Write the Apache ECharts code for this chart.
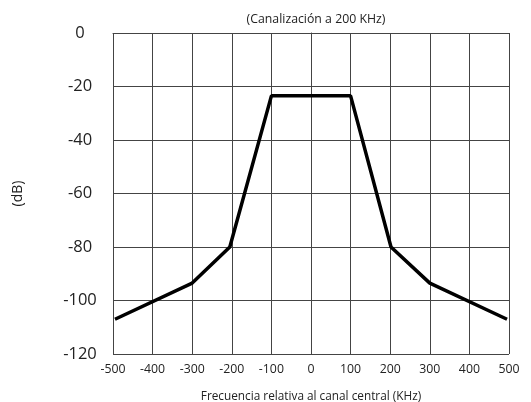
<!DOCTYPE html>
<html><head><meta charset="utf-8">
<script src="https://cdn.jsdelivr.net/npm/echarts@6/dist/echarts.min.js"></script>
<style>html,body{margin:0;padding:0;background:#fff}#c{width:531px;height:402px}</style>
</head><body><div id="c"></div>
<script>
const freqs = [-495, -300, -205, -100, 100, 202, 300, 495];
const levels = [-107, -93.5, -80, -23.5, -23.5, -80, -93.5, -107];
const xTicks = [-500, -400, -300, -200, -100, 0, 100, 200, 300, 400, 500];
const yTicks = [-120, -100, -80, -60, -40, -20, 0];
const titleText = '(Canalización a 200 KHz)';
const xName = 'Frecuencia relativa al canal central (KHz)';
const yName = '(dB)';

const chart = echarts.init(document.getElementById('c'));
const FONT = 'Open Sans';
chart.setOption({
  animation: false,
  title: {text: titleText, left: 311, top: 8, textAlign: 'center',
    textStyle: {fontFamily: FONT, fontSize: 12.3, fontWeight: 'normal', color: '#222'}},
  grid: {left: 113, right: 22, top: 33, bottom: 48, containLabel: false, outerBoundsMode: 'none'},
  xAxis: {type: 'value', min: xTicks[0], max: xTicks[xTicks.length-1], interval: 100,
    name: xName, nameLocation: 'middle', nameGap: 37,
    nameTextStyle: {fontFamily: FONT, fontSize: 11.8, color: '#222'},
    axisLine: {show: true, lineStyle: {color: '#444', width: 1}},
    axisTick: {show: false},
    axisLabel: {fontFamily: FONT, fontSize: 12.3, color: '#222', margin: 9},
    splitLine: {show: true, lineStyle: {color: '#444', width: 1}}},
  yAxis: {type: 'value', min: yTicks[0], max: yTicks[yTicks.length-1], interval: 20,
    name: yName, nameLocation: 'middle', nameGap: 88, nameRotate: 90,
    nameTextStyle: {fontFamily: FONT, fontSize: 14, color: '#222'},
    axisLine: {show: true, lineStyle: {color: '#444', width: 1}},
    axisTick: {show: false},
    axisLabel: {fontFamily: FONT, fontSize: 16.5, color: '#222', margin: 33, align: 'center'},
    splitLine: {show: true, lineStyle: {color: '#444', width: 1}}},
  series: [{type: 'line', data: freqs.map((f, i) => [f, levels[i]]),
    showSymbol: false, lineStyle: {color: '#000', width: 3.5}, itemStyle: {color: '#000'}}]
});
</script></body></html>
